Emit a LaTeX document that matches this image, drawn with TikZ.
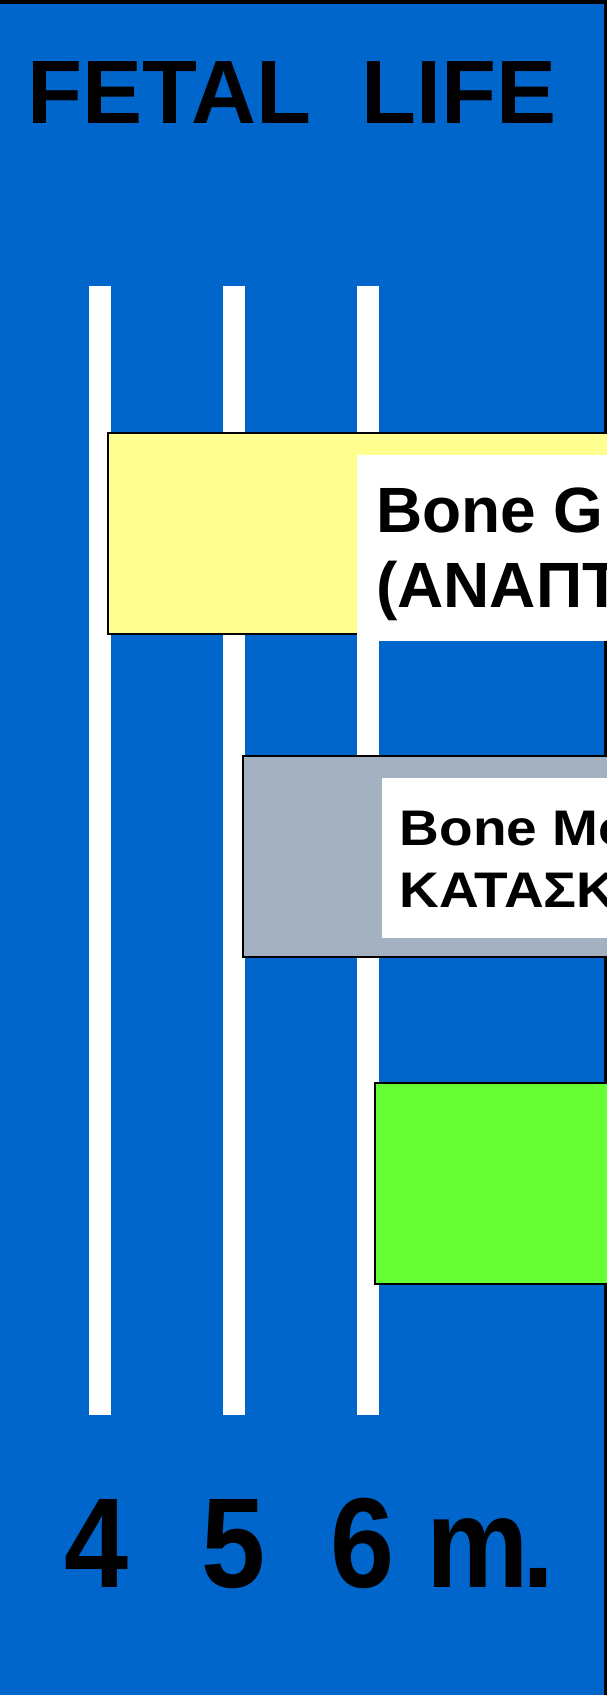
\documentclass[tikz,border=0pt]{standalone}
\usepackage{fontspec}
\setmainfont{Liberation Sans}
\newfontfamily\narrowsans{Liberation Sans}[FakeStretch=0.9]
\newfontfamily\widesans{Liberation Sans}[FakeStretch=1.1]
\usetikzlibrary{positioning}

\definecolor{slideblue}{HTML}{0066CC}
\definecolor{boneyellow}{HTML}{FFFF90}
\definecolor{marrowgrey}{HTML}{A3B1C1}
\definecolor{limegreen}{HTML}{66FF33}

\begin{document}
\begin{tikzpicture}[
        x=1pt, y=-1pt,
        bar/.style={fill=white, inner sep=0pt, minimum width=22pt,
        minimum height=1129pt, anchor=north},
        phase/.style={draw=black, line width=1.5pt, inner sep=0pt, anchor=north west},
        textbox/.style={fill=white, inner sep=0pt, anchor=north west},
        big/.style={font=\fontsize{64}{75}\selectfont\bfseries, inner sep=0pt, anchor=base west},
        mid/.style={font=\widesans\fontsize{50}{62}\selectfont\bfseries, inner sep=0pt, anchor=base west},
        month/.style={font=\narrowsans\fontsize{128}{140}\selectfont\bfseries, inner sep=0pt}
      ]
      \useasboundingbox (0,0) rectangle (607,1695);
      \clip (0,0) rectangle (607,1695);

      % Background
      \fill[black] (0,0) rectangle (607,1695);
      \fill[slideblue] (0,4) rectangle (604,1695);

      % Title
      \node[font=\fontsize{90}{100}\selectfont\bfseries, inner sep=0pt, anchor=base]
      (title) at (292,123) {FETAL\ \ LIFE};

      % Month bars
      \node[bar] (bar4) at (100,286) {};
      \node[bar] (bar5) at (233.5,286) {};
      \node[bar] (bar6) at (367.5,286) {};

      % Phases
      \node[phase, fill=boneyellow, minimum width=510pt, minimum height=201pt]
      (growth) at (107,432) {};
      \node[textbox, minimum width=260pt, minimum height=186pt] (growthbox) at (357,455) {};
      \node[big] (growthA) at (376,532) {Bone G};
      \node[big] (growthB) at (376,607) {(ΑΝΑΠΤ};

      \node[phase, fill=marrowgrey, minimum width=375pt, minimum height=201pt]
      (marrow) at (242,755) {};
      \node[textbox, minimum width=235pt, minimum height=160pt] (marrowbox) at (382,778) {};
      \node[mid] (marrowA) at (399.5,845) {Bone Mo};
      \node[mid] (marrowB) at (399.5,907) {ΚΑΤΑΣΚ};

      \node[phase, fill=limegreen, minimum width=243pt, minimum height=201pt]
      (third) at (374,1082) {};

      % Months
      \node[month, anchor=base] (m4) at (97,1587) {4};
      \node[month, anchor=base] (m5) at (234,1587) {5};
      \node[month, anchor=base west] (m6) at (330,1587) {6 m\kern-6pt.};
    \end{tikzpicture}
\end{document}
